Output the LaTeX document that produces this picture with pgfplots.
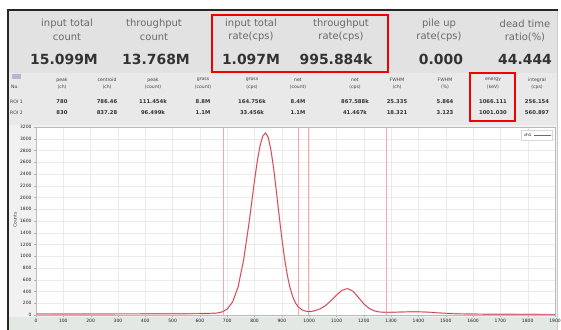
\documentclass[border=0pt]{standalone}
\usepackage{pgfplots}
\pgfplotsset{compat=1.18}
\usepackage{pgfplotstable}
\usepackage{fontspec}
\setmainfont{DejaVu Sans}

\definecolor{panel}{HTML}{E2E2E2}
\definecolor{tablebg}{HTML}{E9E9E9}
\definecolor{plotbg}{HTML}{F1F1F1}
\definecolor{stripbg}{HTML}{E2E8E4}
\definecolor{labelgray}{HTML}{6A6A6A}
\definecolor{valuedark}{HTML}{333333}
\definecolor{boxred}{HTML}{F20000}
\definecolor{curve}{HTML}{C8404F}
\definecolor{curvehalo}{HTML}{F6C6CC}
\definecolor{roi}{HTML}{F4A9B0}

% spectrum: channel, counts
\pgfplotstableread{
ch counts
0 18
50 18
100 17
150 17
200 18
250 18
300 19
350 19
400 20
450 20
500 21
550 22
600 24
630 26
660 32
680 50
700 100
720 224
740 480
760 935
780 1570
800 2290
810 2615
820 2875
830 3045
840 3100
850 3026
860 2813
870 2493
880 2105
890 1696
900 1304
910 959
920 678
930 463
940 308
950 204
960 137
975 84
990 62
1005 58
1020 72
1040 104
1060 161
1080 245
1100 340
1120 419
1140 450
1160 407
1180 302
1200 190
1220 110
1240 68
1260 50
1280 46
1300 46
1330 50
1360 54
1390 56
1420 52
1450 44
1480 34
1510 26
1550 20
1600 16
1650 14
1700 13
1750 12
1800 12
1850 11
1900 11
}\spectrum

\begin{document}
\begin{tikzpicture}
\useasboundingbox (0,0) rectangle (561bp,-330bp);
\fill[white] (0,0) rectangle (561bp,-330bp);

\begin{scope}[x=1bp,y=-1bp,
  lbl/.style={font=\fontsize{10}{10}\selectfont, text=labelgray, inner sep=0},
  val/.style={font=\fontsize{14}{14}\selectfont\bfseries, text=valuedark, inner sep=0},
  th/.style={font=\fontsize{4.6}{4.6}\selectfont, text=gray!50!black, inner sep=0},
  td/.style={font=\fontsize{5.3}{5.3}\selectfont\bfseries, text=black!80, inner sep=0}]
  % panels
  \fill[panel] (9,11) rectangle (557,73);
  \fill[tablebg] (9,73) rectangle (557,125);
  \fill[plotbg] (9,125) rectangle (557,330);
  \fill[stripbg] (9,317) rectangle (557,330);
  \draw[gray!40] (557,11) -- (557,330);

  % summary counters
  \node[lbl] at (67,24) {input total};
  \node[lbl] at (67,37) {count};
  \node[val] at (64,59) {15.099M};
  \node[lbl] at (154,24) {throughput};
  \node[lbl] at (154,37) {count};
  \node[val] at (156,59) {13.768M};
  \node[lbl] at (251,24) {input total};
  \node[lbl] at (251,37) {rate(cps)};
  \node[val] at (251,59) {1.097M};
  \node[lbl] at (341,24) {throughput};
  \node[lbl] at (341,37) {rate(cps)};
  \node[val] at (336,59) {995.884k};
  \node[lbl] at (439,24) {pile up};
  \node[lbl] at (439,37) {rate(cps)};
  \node[val] at (441,59) {0.000};
  \node[lbl] at (525,24) {dead time};
  \node[lbl] at (525,37) {ratio(\%)};
  \node[val] at (525,59) {44.444};

  % ROI table
  \fill[blue!25!gray!45] (12,74) rectangle (21,79);
  \node[th,anchor=west] at (11,87) {No.};
  \node[th,anchor=west] at (10,102) {ROI 1};
  \node[th,anchor=west] at (10,113) {ROI 2};
  \foreach \cx/\ha/\hb/\ra/\rb in {
     62/peak/(ch)/780/830,
     107/centroid/(ch)/786.46/837.28,
     153/peak/(count)/111.454k/96.499k,
     203/gross/(count)/8.8M/1.1M,
     252/gross/(cps)/164.756k/33.456k,
     298/net/(count)/8.4M/1.1M,
     355/net/(cps)/867.588k/41.467k,
     397/FWHM/(ch)/25.335/18.321,
     445/FWHM/(\%)/5.864/3.123,
     493/energy/(keV)/1066.111/1001.030,
     537/integral/(cps)/256.154/560.897}{
    \node[th] at (\cx,80) {\ha};
    \node[th] at (\cx,87) {\hb};
    \node[td] at (\cx,102) {\ra};
    \node[td] at (\cx,113) {\rb};
  }

  % axis title
  \node[th,rotate=90,font=\fontsize{4.5}{4.5}\selectfont] at (15,220) {Counts};
\end{scope}

\begin{axis}[
  at={(36bp,-315bp)}, anchor=south west,
  width=519bp, height=188bp, scale only axis,
  xmin=0, xmax=1900, ymin=0, ymax=3200,
  xtick={0,100,...,1900}, ytick={0,200,...,3200},
  xtick pos=bottom, ytick pos=left, tick align=outside,
  major tick length=2bp,
  grid=major, grid style={gray!16, line width=0.3pt},
  axis line style={gray!55},
  tick style={gray!60},
  axis background/.style={fill=white},
  /pgf/number format/assume math mode=true,
  /pgf/number format/1000 sep={},
  tick label style={font=\fontsize{4.5}{4.5}\selectfont, text=gray!25!black},
  xticklabel style={yshift=1bp},
  yticklabel style={xshift=1bp},
  legend style={at={(0.995,0.985)}, anchor=north east,
    font=\fontsize{4}{4}\selectfont, draw=gray!30, fill=white,
    inner sep=1pt, row sep=0pt},
  legend plot pos=right,
  legend cell align=left,
]
  % ROI boundaries
  \addplot[roi, line width=0.5pt, forget plot] coordinates {(686,0) (686,3200)};
  \addplot[roi, line width=0.5pt, forget plot] coordinates {(961,0) (961,3200)};
  \addplot[roi, line width=0.5pt, forget plot] coordinates {(998,0) (998,3200)};
  \addplot[roi, line width=0.5pt, forget plot] coordinates {(1284,0) (1284,3200)};
  % spectrum
  \addplot[curvehalo, line width=1.6pt, line join=round, forget plot] table[x=ch, y=counts] {\spectrum};
  \addplot[curve, line width=0.7pt, line join=round] table[x=ch, y=counts] {\spectrum};
  \addlegendentry{ch1}
\end{axis}

\begin{scope}[x=1bp,y=-1bp]
  % window frame and highlight boxes
  \draw[black!85, line width=2bp] (8,330) -- (8,10) -- (558,10);
  \draw[boxred, line width=2bp] (212,15) rectangle (388,72);
  \draw[boxred, line width=2bp] (470,73) rectangle (515,121);
\end{scope}
\end{tikzpicture}
\end{document}
